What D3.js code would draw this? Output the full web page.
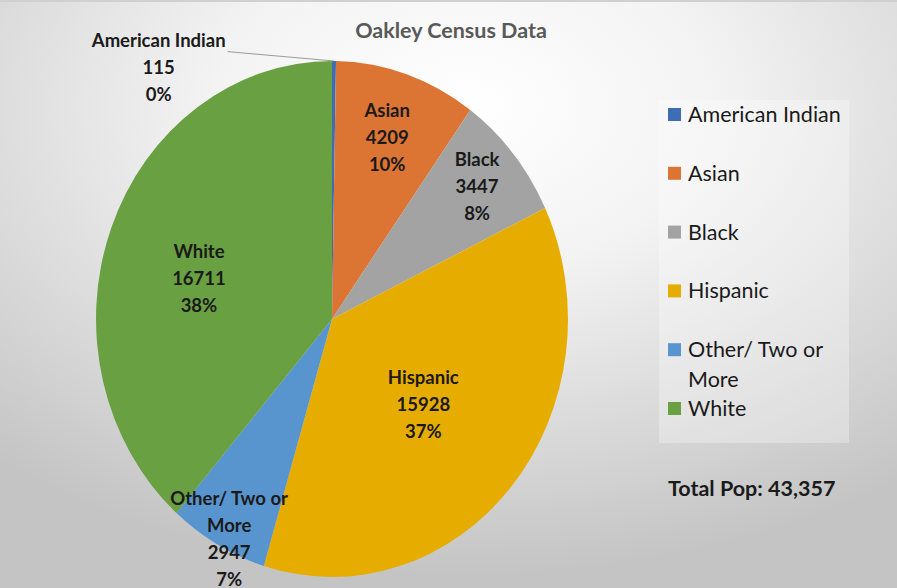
<!DOCTYPE html>
<html>
<head>
<meta charset="utf-8">
<script src="https://cdn.jsdelivr.net/npm/d3@7"></script>
<style>
  body { margin: 0; background: #fff; }
  svg { display: block; font-family: Lato, "Open Sans", sans-serif; }
</style>
</head>
<body>
<div id="chart"></div>
<script>
/**
 * DATA
 * */
const categories = ["American Indian", "Asian", "Black", "Hispanic", "Other/ Two or More", "White"];
const population = [115, 4209, 3447, 15928, 2947, 16711];
const pctLabels = ["0%", "10%", "8%", "37%", "7%", "38%"];
const colors = ["#3f6db4", "#dc7433", "#a3a3a3", "#e6ad00", "#5895cf", "#69a041"];
const totalLabel = "Total Pop: 43,357";

/**
 * LAYOUT
 * */
const width = 897, height = 588;
const cx = 332, cy = 319, rx = 236, ry = 258;
// label radius (fraction of pie) and angle (deg, null = slice middle), Excel-ish "best fit"
const labelRadius = [1.22, 0.74, 0.8, 0.51, 0.96, 0.585];
const labelAngle = [-37, null, null, null, 207, 285.5];
const labelLines = [
  ["American Indian"], ["Asian"], ["Black"], ["Hispanic"], ["Other/ Two or", "More"], ["White"]
];

const svg = d3.select("#chart").append("svg")
  .attr("width", width)
  .attr("height", height);

// background gradient
const defs = svg.append("defs");
const grad = defs.append("radialGradient")
  .attr("id", "bg")
  .attr("cx", "52%").attr("cy", "18%").attr("r", "80%");
grad.append("stop").attr("offset", "0%").attr("stop-color", "#ffffff");
grad.append("stop").attr("offset", "35%").attr("stop-color", "#f3f3f3");
grad.append("stop").attr("offset", "100%").attr("stop-color", "#c4c4c4");

svg.append("rect")
  .attr("width", width).attr("height", height)
  .attr("fill", "url(#bg)");
svg.append("line")
  .attr("x1", 0).attr("x2", width).attr("y1", 1).attr("y2", 1)
  .attr("stroke", "#d0d0d0").attr("stroke-width", 2);

// title
svg.append("text")
  .attr("x", 451).attr("y", 38)
  .attr("text-anchor", "middle")
  .attr("font-size", 21.5).attr("font-weight", "bold")
  .attr("fill", "#595959")
  .text("Oakley Census Data");

/**
 * PIE
 * */
const pie = d3.pie().sort(null).value(d => d)(population);
const arc = d3.arc().innerRadius(0).outerRadius(1);

// pie drawn on unit circle, stretched to ellipse
const pieG = svg.append("g")
  .attr("transform", `translate(${cx},${cy}) scale(${rx},${ry})`);

pieG.selectAll("path")
  .data(pie)
  .join("path")
  .attr("d", arc)
  .attr("fill", (d, i) => colors[i]);

// label positions
function labelPos(d, i) {
  let a = (d.startAngle + d.endAngle) / 2;
  if (labelAngle[i] !== null) a = labelAngle[i] * Math.PI / 180;
  const r = labelRadius[i];
  return [cx + Math.sin(a) * r * rx, cy - Math.cos(a) * r * ry];
}

const lineH = 27;
const labels = svg.append("g")
  .attr("font-size", 18.5)
  .attr("font-weight", "bold")
  .attr("fill", "#1a1a1a")
  .attr("text-anchor", "middle");

pie.forEach((d, i) => {
  const [x, y] = labelPos(d, i);
  const lines = labelLines[i].concat([String(population[i]), pctLabels[i]]);
  const y0 = y - (lines.length - 1) * lineH / 2;
  const t = labels.append("text").attr("x", x).attr("y", y0 + 6);
  lines.forEach((s, k) => {
    t.append("tspan").attr("x", x).attr("y", y0 + 6 + k * lineH).text(s);
  });
  if (i === 0) {
    // leader line to the slice
    const w = t.select("tspan").node().getComputedTextLength();
    const a = (d.startAngle + d.endAngle) / 2;
    svg.append("line")
      .attr("x1", x + w / 2 + 2).attr("y1", y0 + 11)
      .attr("x2", cx + Math.sin(a) * rx).attr("y2", cy - Math.cos(a) * ry)
      .attr("stroke", "#9a9a9a").attr("stroke-width", 1);
  }
});

/**
 * LEGEND
 * */
svg.append("rect")
  .attr("x", 659).attr("y", 100)
  .attr("width", 190).attr("height", 343)
  .attr("fill", "#ffffff").attr("fill-opacity", 0.3);

const legendY = d3.scalePoint().domain(d3.range(categories.length)).range([114, 408]);
const legendItems = [[0, "American Indian"], [1, "Asian"], [2, "Black"], [3, "Hispanic"], [4, "Other/ Two or", "More"], [5, "White"]];

const lg = svg.append("g").attr("font-size", 21.5).attr("fill", "#1a1a1a");
legendItems.forEach(item => {
  const i = item[0];
  const y = legendY(i);
  lg.append("rect")
    .attr("x", 668).attr("y", y - 6)
    .attr("width", 13).attr("height", 13)
    .attr("fill", colors[i]);
  const t = lg.append("text").attr("x", 688).attr("y", y + 8);
  item.slice(1).forEach((s, k) => {
    t.append("tspan").attr("x", 688).attr("y", y + 8 + k * 30).text(s);
  });
});

svg.append("text")
  .attr("x", 668).attr("y", 496)
  .attr("font-size", 21.5).attr("font-weight", "bold")
  .attr("fill", "#1a1a1a")
  .text(totalLabel);
</script>
</body>
</html>
